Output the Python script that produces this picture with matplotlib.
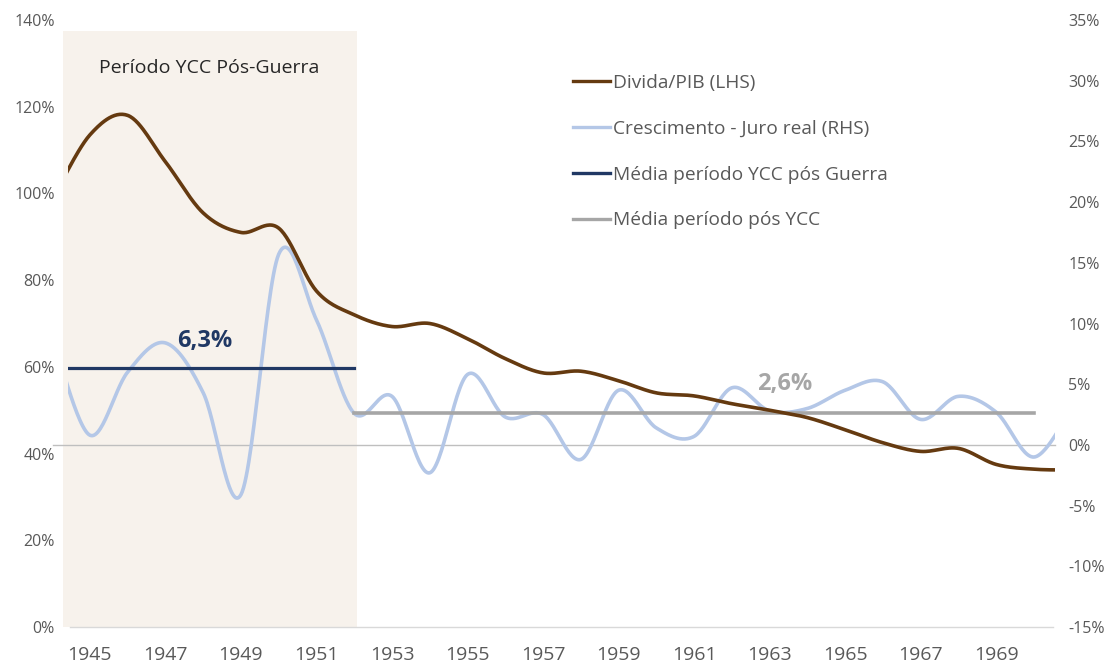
import numpy as np
import matplotlib
matplotlib.use("Agg")
import matplotlib.pyplot as plt
from matplotlib.lines import Line2D

plt.rcParams['font.family'] = ['Open Sans', 'DejaVu Sans']

# ---------------- data ----------------
years = list(range(1944, 1972))
divida_pib = [98.5, 113.5, 118.0, 107.3, 95.5, 91.0, 92.0, 77.5, 72.0, 69.3,
              70.0, 66.5, 61.9, 58.6, 59.0, 56.8, 54.0, 53.3, 51.5, 50.0,
              48.3, 45.5, 42.5, 40.5, 41.2, 37.5, 36.4, 36.2]
cresc_juro = [9.0, 0.8, 6.0, 8.4, 4.3, -4.1, 15.7, 10.3, 2.6, 4.0,
              -2.3, 5.8, 2.3, 2.5, -1.2, 4.5, 1.4, 0.7, 4.7, 2.8,
              3.0, 4.5, 5.2, 2.1, 4.0, 2.7, -1.0, 3.0]
media_ycc_years = [1944, 1952]
media_ycc = 6.3
media_pos_years = [1952, 1970]
media_pos = 2.6
ycc_period = (1944.28, 1952.07)
left_ticks = [0, 20, 40, 60, 80, 100, 120, 140]
right_ticks = [-15, -10, -5, 0, 5, 10, 15, 20, 25, 30, 35]
x_ticks = list(range(1945, 1970, 2))

labels = ["Divida/PIB (LHS)", "Crescimento - Juro real (RHS)",
          "Média período YCC pós Guerra", "Média período pós YCC"]

# ---------------- helpers ----------------
def smooth(x, y, n=30):
    """Excel-like smoothed line (Catmull-Rom / Bezier) through the points."""
    x = np.asarray(x, float); y = np.asarray(y, float)
    P = np.column_stack([x, y])
    out = []
    N = len(P)
    t = np.linspace(0, 1, n)[:, None]
    for i in range(N - 1):
        p0 = P[i - 1] if i > 0 else P[i]
        p1 = P[i]
        p2 = P[i + 1]
        p3 = P[i + 2] if i + 2 < N else P[i + 1]
        c1 = p1 + (p2 - p0) / 6.0
        c2 = p2 - (p3 - p1) / 6.0
        seg = ((1 - t) ** 3) * p1 + 3 * ((1 - t) ** 2) * t * c1 + 3 * (1 - t) * t ** 2 * c2 + t ** 3 * p2
        out.append(seg if i == 0 else seg[1:])
    S = np.vstack(out)
    return S[:, 0], S[:, 1]

# ---------------- colours ----------------
c_brown = '#653A10'
c_blue = '#B4C7E7'
c_navy = '#203864'
c_gray = '#A6A6A6'
c_zero = '#BFBFBF'
c_shade = '#F7F2EC'
c_text = '#595959'

W, H = 1110, 666
fig = plt.figure(figsize=(W / 100, H / 100), dpi=100)
x0, x1, yb, yt = 68, 1055, 627, 20
ax = fig.add_axes([x0 / W, 1 - yb / H, (x1 - x0) / W, (yb - yt) / H])
ax2 = ax.twinx()
ax.set_zorder(ax2.get_zorder() + 1)
ax.patch.set_visible(False)

xmin, xmax = 1944.42, 1970.56
for a in (ax, ax2):
    a.set_xlim(xmin, xmax)
ax.set_ylim(0, 140)
ax2.set_ylim(-15, 35)

# shading (YCC period)
ax2.axvspan(ycc_period[0], ycc_period[1], ymin=0, ymax=137.5 / 140,
            color=c_shade, lw=0, zorder=0, clip_on=False)

# zero line on right axis
ax2.axhline(0, xmin=-0.015, xmax=1.0, color=c_zero, lw=1.0, zorder=1, clip_on=False)

# blue series
bx, by = smooth(years, cresc_juro)
ax2.plot(bx, by, color=c_blue, lw=2.6, zorder=2, solid_capstyle='round')
# averages
ax2.plot(media_ycc_years, [media_ycc] * 2, color=c_navy, lw=2.3, zorder=3)
ax2.plot(media_pos_years, [media_pos] * 2, color=c_gray, lw=2.6, zorder=3)

# brown series
dx, dy = smooth(years, divida_pib)
ax.plot(dx, dy, color=c_brown, lw=2.6, zorder=4, solid_capstyle='round')

# text annotations
ax2.text(1948.05, media_ycc + 1.3, "6,3%", color=c_navy, fontsize=17,
         fontweight='bold', ha='center', va='bottom')
ax2.text(1963.4, media_pos + 1.4, "2,6%", color=c_gray, fontsize=17,
         fontweight='bold', ha='center', va='bottom')
fig.text(209 / W, 1 - 68 / H, "Período YCC Pós-Guerra", color='#262626',
         fontsize=14, ha='center', va='center')

# axes styling
for a in (ax, ax2):
    for s in ('top', 'left', 'right', 'bottom'):
        a.spines[s].set_visible(False)
ax.axhline(0, xmin=0.002, xmax=0.998, color='#D9D9D9', lw=1.0, zorder=1, clip_on=False)

ax.set_yticks(left_ticks)
ax.set_yticklabels([f"{v}%" for v in left_ticks])
ax2.set_yticks(right_ticks)
ax2.set_yticklabels([f"{v}%" for v in right_ticks])
ax.set_xticks(x_ticks)
ax.set_xticklabels([str(v) for v in x_ticks])
ax.tick_params(axis='y', length=0, pad=9.5, labelsize=11.5, labelcolor=c_text)
ax2.tick_params(axis='y', length=0, pad=9.5, labelsize=11.5, labelcolor=c_text)
ax.tick_params(axis='x', length=0, pad=14, labelsize=14, labelcolor=c_text)
ax2.tick_params(axis='x', length=0, labelbottom=False)

# legend
handles = [Line2D([], [], color=c_brown, lw=2.4),
           Line2D([], [], color=c_blue, lw=2.4),
           Line2D([], [], color=c_navy, lw=2.4),
           Line2D([], [], color=c_gray, lw=2.4)]
leg = ax.legend(handles, labels, loc='upper left',
                bbox_to_anchor=(573 / W, 1 - 74 / H), bbox_transform=fig.transFigure,
                frameon=False, fontsize=13.8, handlelength=1.95, handletextpad=0.12,
                labelspacing=1.45, borderpad=0, borderaxespad=0)
for t in leg.get_texts():
    t.set_color(c_text)

fig.savefig("out.png", dpi=100)
